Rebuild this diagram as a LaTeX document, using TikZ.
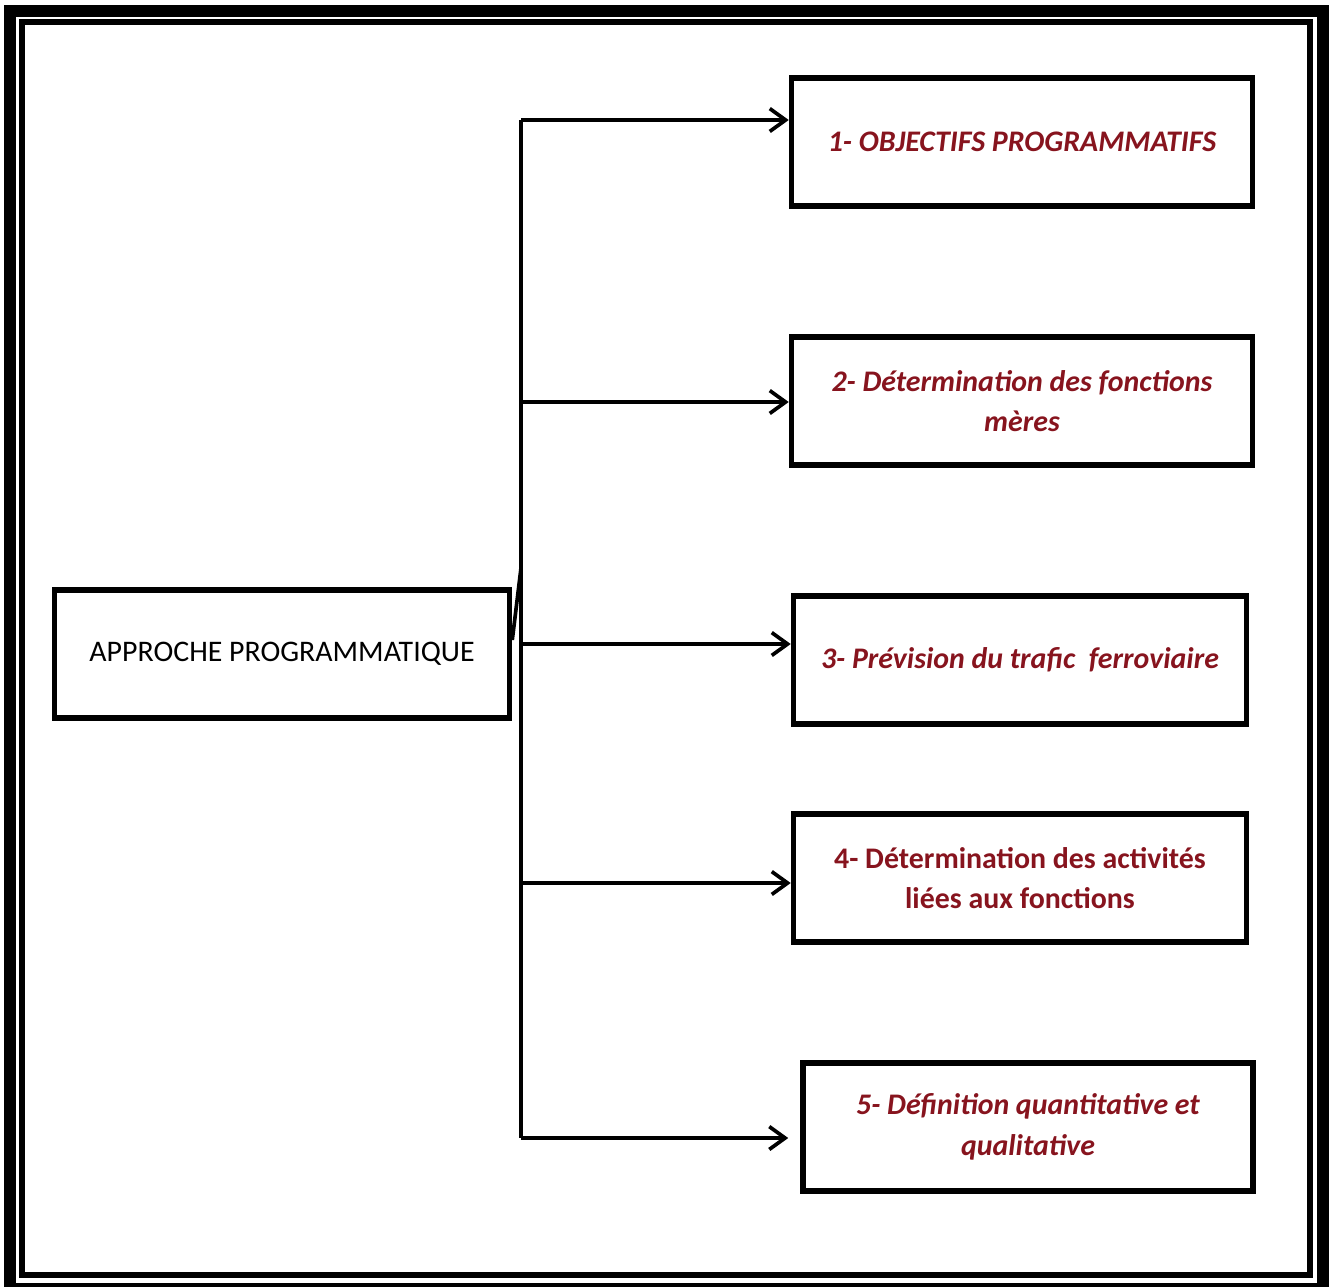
\documentclass[tikz,border=0pt]{standalone}
\usepackage{fontspec}
\setmainfont{Carlito}
\usetikzlibrary{arrows.meta}
\definecolor{bordeaux}{RGB}{135,20,30}

\begin{document}
\begin{tikzpicture}[x=0.02cm, y=-0.02cm,
	boite/.style={draw, line width=3.2pt, minimum height=2.56cm, align=center, inner sep=0pt},
	etape/.style={boite, text=bordeaux, font=\fontsize{17}{23}\selectfont\bfseries\itshape},
	trait/.style={line width=2.1pt},
	fleche/.style={trait, -{Straight Barb[length=9pt,width=13pt,line width=2.1pt]}}]
		\useasboundingbox (0,0) rectangle (1329,1286);
		\draw[line width=6.8pt] (10,11) rectangle (1323,1289);
		\draw[line width=3pt] (22,22) rectangle (1310,1275);
		
		\node[boite, minimum width=9.1cm, font=\fontsize{17}{23}\selectfont] (approche) at (282,654) {APPROCHE PROGRAMMATIQUE};
		\node[etape, minimum width=9.22cm] (obj) at (1022,142) {1- OBJECTIFS PROGRAMMATIFS};
		\node[etape, minimum width=9.22cm] (fct) at (1022,401) {2- Détermination des fonctions\\mères};
		\node[etape, minimum width=9.06cm] (trafic) at (1020,660) {3- Prévision du trafic~ ferroviaire};
		\node[etape, minimum width=9.06cm, font=\fontsize{17}{23}\selectfont\bfseries] (act) at (1020,878) {4- Détermination des activités\\liées aux fonctions};
		\node[etape, minimum width=9.0cm] (def) at (1028,1127) {5- Définition quantitative et\\qualitative};
		
		\coordinate (t1) at (521,120);
		\coordinate (t2) at (521,402);
		\coordinate (t3) at (521,644);
		\coordinate (t4) at (521,883);
		\coordinate (t5) at (521,1138);
		\coordinate (j) at (521,568);
		\draw[trait] (t1) -- (t5);
		\draw[trait] ([yshift=0.28cm]approche.east) -- (j);
		\draw[fleche] (t1) -- (t1 -| obj.west);
		\draw[fleche] (t2) -- (t2 -| fct.west);
		\draw[fleche] (t3) -- (t3 -| trafic.west);
		\draw[fleche] (t4) -- (t4 -| act.west);
		\draw[fleche, shorten >=0.24cm] (t5) -- (t5 -| def.west);
\end{tikzpicture}
\end{document}
